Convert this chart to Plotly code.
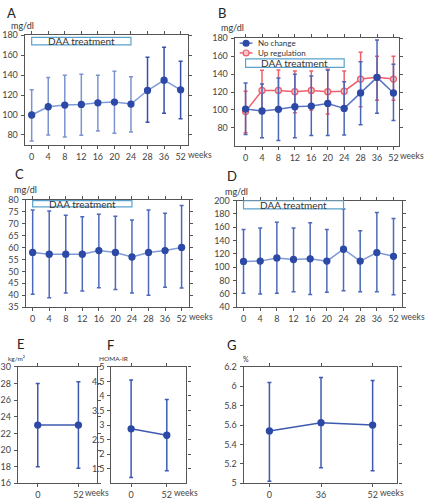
import plotly.graph_objects as go

W, H = 426, 500

weeks = ["0", "4", "8", "12", "16", "20", "24", "28", "36", "52"]

# Panel A
a_mean = [100, 108.3, 110, 110.6, 112.2, 113, 111, 124.6, 135, 125.3]
a_hi = [125.3, 137.7, 140, 141, 140, 144, 138.3, 158, 168, 154]
a_lo = [74, 80, 78, 79.7, 84, 81.6, 83, 92.7, 101.8, 96.3]

# Panel B
b_nc_mean = [101, 98.9, 100.7, 103.6, 104.4, 107.3, 101.8, 119, 136.4, 119]
b_nc_hi = [130.2, 129, 135.6, 140, 138, 144.4, 131.6, 153.8, 178, 151]
b_nc_lo = [72.7, 69, 66, 69, 71.6, 71.6, 72, 83.6, 96.4, 88.4]
b_up_mean = [98.2, 121.8, 121.8, 120.4, 121.8, 120.4, 121, 134.5, 136.4, 134.5]
b_up_hi = [121, 144.4, 144.7, 143.6, 143.6, 145.5, 143.6, 164.4, 160, 160]
b_up_lo = [74.5, 96.4, 99, 97, 100, 95.6, 100, 103.6, 111, 111]
b_series = ["No change", "Up regulation"]

# Panel C
c_mean = [57.9, 57.2, 57.2, 57.2, 58.7, 57.9, 56, 57.9, 58.7, 60]
c_hi = [75.7, 75.3, 73.5, 72.8, 73.9, 73, 71.5, 75.7, 74.3, 77.6]
c_lo = [40.4, 39, 41, 41.8, 43.1, 42.4, 41, 40, 43.4, 43]

# Panel D
d_mean = [108.7, 109.2, 114, 111.6, 112.6, 109.2, 127, 109.2, 122, 116.4]
d_hi = [156.5, 159, 167.5, 159, 166.6, 156.5, 187.6, 154.6, 182, 173]
d_lo = [61, 60, 61, 63.4, 59, 62.4, 64.8, 63.4, 63.4, 58.6]

# Panel E (BMI)
e_weeks = ["0", "52"]
e_mean = [23, 23]
e_hi = [28, 28.2]
e_lo = [18, 17.8]

# Panel F (HOMA-IR)
f_weeks = ["0", "52"]
f_mean = [2.87, 2.65]
f_hi = [4.55, 3.88]
f_lo = [1.2, 1.43]

# Panel G (HbA1c %)
g_weeks = ["0", "36", "52"]
g_mean = [5.54, 5.625, 5.6]
g_hi = [6.04, 6.09, 6.06]
g_lo = [5.02, 5.16, 5.13]

FONT = "Lato"
DARK = "#2c49a5"
LINE = "#7f9ad8"
ERR_L = "#7b93d0"
ERR_D = "#3551aa"
RED = "#ef5f6b"
REDFILL = "#f9c5ca"
BOXC = "#5aa2cc"
NC_LINE = "#5a74c4"

fig = go.Figure()


def px(x):
    return x / W


def py(y):
    return 1 - y / H


def refs(ax):
    return ("x", "y") if ax == "1" else ("x" + ax, "y" + ax)


def err(hi, m, lo):
    return [h - v for h, v in zip(hi, m)], [v - l for v, l in zip(m, lo)]


def add_series(ax, cats, mean, hi, lo, linecolor, mcolor, ecolor,
               symbol="circle", split=None, ecolor2=None, mfill=None):
    xs = list(range(len(cats)))
    up, dn = err(hi, mean, lo)
    xa, ya = refs(ax)
    parts = [(slice(0, None), ecolor)] if split is None else \
        [(slice(0, split), ecolor), (slice(split, None), ecolor2)]
    for sl, col in parts:
        fig.add_trace(go.Scatter(x=xs[sl], y=mean[sl], mode="markers", xaxis=xa, yaxis=ya,
                                 marker=dict(size=0.1, color=col),
                                 error_y=dict(type="data", array=up[sl], arrayminus=dn[sl],
                                              color=col, thickness=1.5, width=2),
                                 showlegend=False, hoverinfo="skip"))
    fig.add_trace(go.Scatter(x=xs, y=mean, mode="lines+markers", xaxis=xa, yaxis=ya,
                             line=dict(color=linecolor, width=1.5),
                             marker=dict(size=6, color=mfill if mfill else mcolor,
                                         symbol=symbol,
                                         line=dict(color=mcolor, width=1.3)),
                             showlegend=False))


def set_axes(ax, xpx, ypx, xr, yr, cats, yticks):
    xk = "xaxis" if ax == "1" else "xaxis" + ax
    yk = "yaxis" if ax == "1" else "yaxis" + ax
    xa, ya = refs(ax)
    common = dict(showline=True, mirror="ticks", linecolor="#555", linewidth=1.2,
                  ticks="outside", ticklen=3, tickcolor="#555", showgrid=False,
                  zeroline=False, tickfont=dict(size=9, color="#444", family=FONT))
    fig.layout[xk] = dict(domain=[px(xpx[0]), px(xpx[1])], range=xr,
                          tickvals=list(range(len(cats))), ticktext=cats,
                          anchor=ya, **common)
    fig.layout[yk] = dict(domain=[py(ypx[1]), py(ypx[0])], range=yr,
                          tickvals=yticks, ticklabelstandoff=1,
                          anchor=xa, **common)


def daa_box(ax, cats, y0, y1, size=10):
    xa, ya = refs(ax)
    x0, x1 = cats.index("0"), cats.index("24")
    fig.add_shape(type="rect", xref=xa, yref=ya, x0=x0, x1=x1, y0=y0, y1=y1,
                  line=dict(color=BOXC, width=1.2), fillcolor="white", layer="above")
    fig.add_annotation(xref=xa, yref=ya, x=(x0 + x1) / 2, y=(y0 + y1) / 2,
                       text="DAA treatment", showarrow=False, yanchor="middle",
                       font=dict(size=size, color="#333", family=FONT))


def weeks_label(ax, cats, dx=5):
    xa, ya = refs(ax)
    fig.add_annotation(xref=xa, yref=ya + " domain", x=len(cats) - 1, y=0,
                       text="weeks", showarrow=False, xanchor="left", yanchor="top",
                       xshift=dx, yshift=-3,
                       font=dict(size=8.5, color="#444", family=FONT))


def label(xpx, ypx, text, size=13, color="#222"):
    fig.add_annotation(xref="paper", yref="paper", x=px(xpx), y=py(ypx), text=text,
                       showarrow=False, xanchor="center", yanchor="middle",
                       font=dict(size=size, color=color, family=FONT))


# A
add_series("1", weeks, a_mean, a_hi, a_lo, LINE, DARK, ERR_L, split=7, ecolor2=ERR_D)
set_axes("1", (19, 185), (30, 142), [-0.42, 9.47], [70, 180], weeks, list(range(80, 181, 20)))
daa_box("1", weeks, 170.5, 178)
weeks_label("1", weeks)

# B
add_series("2", weeks, b_up_mean, b_up_hi, b_up_lo, RED, RED, RED, mfill=REDFILL)
add_series("2", weeks, b_nc_mean, b_nc_hi, b_nc_lo, NC_LINE, DARK, "#4b66b8")
set_axes("2", (232, 399), (33, 143), [-0.66, 9.36], [60, 180], weeks, list(range(80, 181, 20)))
daa_box("2", weeks, 147.5, 157)
weeks_label("2", weeks)

# B legend (drawn inside the plot, compact like the original)
for i, (nm, lc, mc, fc) in enumerate(zip(b_series, [NC_LINE, RED], [DARK, RED], [DARK, REDFILL])):
    yy = 38 + i * 10
    fig.add_shape(type="line", xref="paper", yref="paper", x0=px(237), x1=px(250),
                  y0=py(yy), y1=py(yy), line=dict(color=lc, width=1.5))
    fig.add_shape(type="circle", xref="paper", yref="paper", x0=px(240.5), x1=px(246.5),
                  y0=py(yy + 3), y1=py(yy - 3), line=dict(color=mc, width=1.2), fillcolor=fc)
    fig.add_annotation(xref="paper", yref="paper", x=px(254), y=py(yy), text=nm,
                       showarrow=False, xanchor="left", yanchor="middle",
                       font=dict(size=8, color="#333", family=FONT))

# C
add_series("3", weeks, c_mean, c_hi, c_lo, LINE, DARK, "#4d69ba")
set_axes("3", (20, 186), (198, 308), [-0.42, 9.47], [35, 80], weeks, list(range(35, 81, 5)))
daa_box("3", weeks, 77, 79.6)
weeks_label("3", weeks)

# D
add_series("4", weeks, d_mean, d_hi, d_lo, LINE, DARK, "#4d69ba")
set_axes("4", (234, 402), (199, 308), [-0.41, 9.53], [40, 200], weeks, list(range(40, 201, 20)))
daa_box("4", weeks, 187.6, 200)
weeks_label("4", weeks)

# E
add_series("5", e_weeks, e_mean, e_hi, e_lo, "#3d5ab0", DARK, "#3d5ab0")
set_axes("5", (12, 92), (369, 488), [-0.49, 1.45], [16, 30], e_weeks, list(range(16, 31, 2)))
weeks_label("5", e_weeks, dx=5)

# F
add_series("6", f_weeks, f_mean, f_hi, f_lo, "#3d5ab0", DARK, "#3d5ab0")
set_axes("6", (107, 183), (369, 488), [-0.55, 1.55], [1, 5], f_weeks,
         [1.5, 2, 2.5, 3, 3.5, 4, 4.5, 5])
weeks_label("6", f_weeks, dx=5)

# G
add_series("7", g_weeks, g_mean, g_hi, g_lo, "#3d5ab0", DARK, "#3d5ab0")
set_axes("7", (241, 397), (369, 488), [-0.5, 2.48], [5, 6.2], g_weeks,
         [5, 5.2, 5.4, 5.6, 5.8, 6, 6.2])
weeks_label("7", g_weeks, dx=5)

# panel letters and units
label(6, 7, "A")
label(17, 20, "mg/dl", size=9, color="#333")
label(219, 7, "B")
label(230, 22, "mg/dl", size=9, color="#333")
label(14, 172, "C")
label(20, 188, "mg/dl", size=9, color="#333")
label(229, 174, "D")
label(234, 190, "mg/dl", size=9, color="#333")
label(15, 346, "E")
label(11, 360, "kg/m²", size=6.5, color="#333")
label(106, 347, "F")
label(110, 360, "HOMA-IR", size=6.5, color="#333")
label(229, 347, "G")
label(243, 361, "%", size=7, color="#333")

fig.update_layout(
    width=W, height=H, margin=dict(l=0, r=0, t=0, b=0),
    paper_bgcolor="white", plot_bgcolor="white",
    font=dict(family=FONT, color="#333"),
    showlegend=False,
)

fig.write_html("out.html")
